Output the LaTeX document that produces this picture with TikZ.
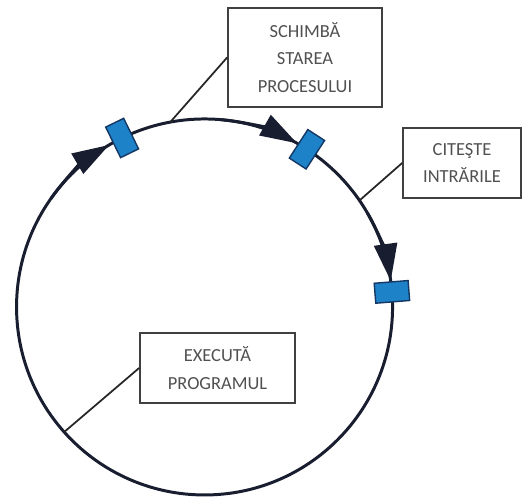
\documentclass[tikz,border=0pt]{standalone}
\usepackage{fontspec}
\setmainfont{Carlito}
\usetikzlibrary{arrows.meta,calc}
\definecolor{ringline}{RGB}{24,30,48}
\definecolor{tagblue}{RGB}{30,130,200}
\definecolor{tagedge}{RGB}{20,55,100}
\definecolor{boxtext}{RGB}{80,80,80}

\begin{document}
\begin{tikzpicture}[scale=0.02,
  ring/.style={draw=ringline, line width=1.7pt},
  flow/.style={ring, -{Triangle[length=0.74cm,width=0.46cm]}},
  tag/.style={draw=tagedge, fill=tagblue, line width=0.8pt, minimum width=0.68cm, minimum height=0.4cm, inner sep=0pt},
  labelbox/.style={draw=black!75, line width=1pt, text=boxtext, align=center, inner sep=0pt, font=\fontsize{10.5}{15.5}\selectfont},
  leader/.style={draw=black!85, line width=1pt}]
\useasboundingbox (0,0) rectangle (524,502);
\coordinate (O) at (204.5,195);

\draw[ring] (O) circle (188);
\draw[flow] ($(O)+(145:188)$) arc[start angle=145, end angle=120.5, radius=188];
\draw[flow] ($(O)+(85:188)$) arc[start angle=85, end angle=60.5, radius=188];
\draw[flow] ($(O)+(30:188)$) arc[start angle=30, end angle=8, radius=188];

\node[tag, rotate=116] (t1) at ($(O)+(116:188)$) {};
\node[tag, rotate=57] (t2) at ($(O)+(57:188)$) {};
\node[tag, rotate=4.6] (t3) at ($(O)+(4.6:188)$) {};

\coordinate (c1) at ($(O)+(100.5:188)$);
\coordinate (c2) at ($(O)+(34.5:188)$);
\coordinate (c3) at ($(O)+(221.7:188)$);

\node[labelbox, minimum width=3.08cm, minimum height=1.98cm] (b1) at (305,444.5) {SCHIMBĂ\\STAREA\\PROCESULUI};
\node[labelbox, minimum width=2.36cm, minimum height=1.4cm] (b2) at (462,339) {CITEŞTE\\INTRĂRILE};
\node[labelbox, minimum width=3.1cm, minimum height=1.4cm] (b3) at (217.5,134) {EXECUTĂ\\PROGRAMUL};

\draw[leader] (b1.west) -- (c1);
\draw[leader] (b2.west) -- (c2);
\draw[leader] (b3.west) -- (c3);
\end{tikzpicture}
\end{document}
